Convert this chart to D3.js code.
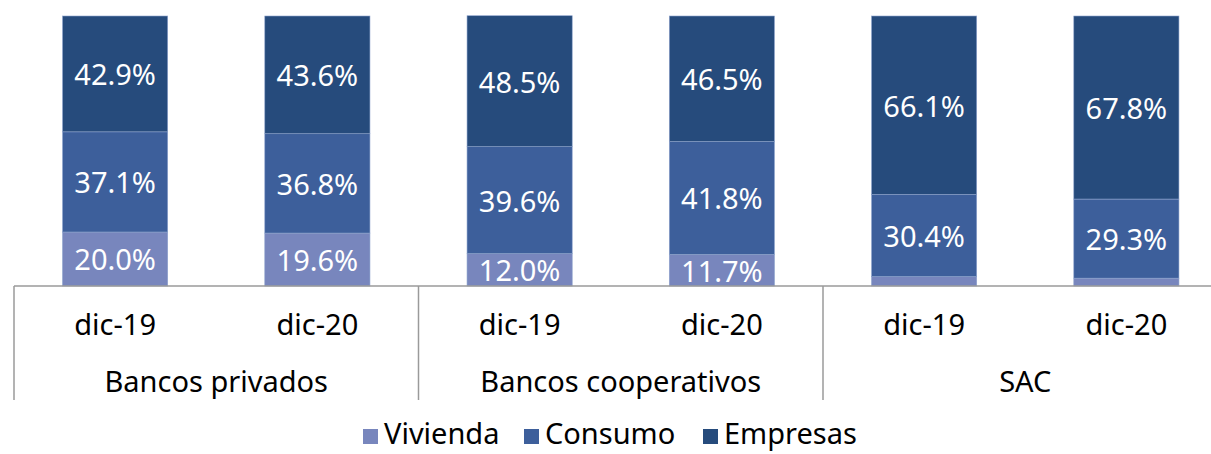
<!DOCTYPE html>
<html>
<head>
<meta charset="utf-8">
<script src="https://cdn.jsdelivr.net/npm/d3@7"></script>
<style>
  html, body { margin: 0; padding: 0; background: #fff; overflow: hidden; }
  svg { display: block; font-family: "Noto Sans", Lato, sans-serif; }
</style>
</head>
<body>
<div id="chart"></div>
<script>
var groups = ["Bancos privados", "Bancos cooperativos", "SAC"];
var periods = ["dic-19", "dic-20"];
var series = ["Vivienda", "Consumo", "Empresas"];
var colors = ["#7886bd", "#3d5f9b", "#264b7c"];

// shares in %, order: privados 19, privados 20, coop 19, coop 20, SAC 19, SAC 20
var vivienda = [20.0, 19.6, 12.0, 11.7, 3.5, 2.9];
var consumo  = [37.1, 36.8, 39.6, 41.8, 30.4, 29.3];
var empresas = [42.9, 43.6, 48.5, 46.5, 66.1, 67.8];

var width = 1211,
    height = 454;

var rows = [];
groups.forEach(function(g, gi) {
    periods.forEach(function(p, pi) {
        var i = gi * periods.length + pi;
        rows.push({ key: g + "|" + p, group: g, period: p,
            Vivienda: vivienda[i], Consumo: consumo[i], Empresas: empresas[i] });
    });
});

var svg = d3.select("#chart").append("svg")
    .attr("width", width)
    .attr("height", height);

// chart is cut at the right edge, third group goes past the window
var x0 = 14, groupW = 404.5;
var x = d3.scaleBand()
    .domain(rows.map(function(d) { return d.key; }))
    .range([x0, x0 + groupW * groups.length])
    .paddingInner(0.48)
    .paddingOuter(0.24);

var y = d3.scaleLinear()
    .domain([0, 100])
    .range([286, 16]);

var stack = d3.stack().keys(series);
var layers = stack(rows);

var layer = svg.selectAll("g.layer")
    .data(layers).enter()
    .append("g")
    .attr("class", "layer")
    .attr("fill", function(d, i) { return colors[i]; });

layer.selectAll("rect")
    .data(function(d) { return d; }).enter()
    .append("rect")
    .attr("x", function(d) { return x(d.data.key); })
    .attr("width", x.bandwidth())
    .attr("y", function(d) { return y(d[1]); })
    .attr("height", function(d) { return y(d[0]) - y(d[1]); })
    .attr("stroke", "#8ea3cc")
    .attr("stroke-width", 0.6);

// value labels
layer.selectAll("text")
    .data(function(d) { return d.filter(function(s) { return s[1] - s[0] >= 5; }); }).enter()
    .append("text")
    .attr("x", function(d) { return x(d.data.key) + x.bandwidth() / 2; })
    .attr("y", function(d) { return (y(d[0]) + y(d[1])) / 2 + 1; })
    .attr("dy", "0.36em")
    .attr("text-anchor", "middle")
    .attr("fill", "#fff")
    .attr("font-size", 29)
    .text(function(d) { return (d[1] - d[0]).toFixed(1) + "%"; });

// axis line and group separators
svg.append("line")
    .attr("x1", x0).attr("x2", width)
    .attr("y1", y(0)).attr("y2", y(0))
    .attr("stroke", "#9a9a9a").attr("stroke-width", 1.5);

svg.selectAll("line.sep")
    .data(d3.range(groups.length + 1)).enter()
    .append("line")
    .attr("class", "sep")
    .attr("x1", function(i) { return x0 + i * groupW; })
    .attr("x2", function(i) { return x0 + i * groupW; })
    .attr("y1", y(0)).attr("y2", 400)
    .attr("stroke", "#9a9a9a").attr("stroke-width", 1.5);

// category labels
svg.selectAll("text.period")
    .data(rows).enter()
    .append("text")
    .attr("class", "period")
    .attr("x", function(d) { return x(d.key) + x.bandwidth() / 2; })
    .attr("y", 325)
    .attr("dy", "0.36em")
    .attr("text-anchor", "middle")
    .attr("font-size", 29)
    .attr("fill", "#000")
    .text(function(d) { return d.period; });

svg.selectAll("text.group")
    .data(groups).enter()
    .append("text")
    .attr("class", "group")
    .attr("x", function(d, i) { return x0 + i * groupW + groupW / 2; })
    .attr("y", 382)
    .attr("dy", "0.36em")
    .attr("text-anchor", "middle")
    .attr("font-size", 29)
    .attr("fill", "#000")
    .text(function(d) { return d; });

// legend
var legendX = [363, 524, 703];
var legend = svg.selectAll("g.legend")
    .data(series).enter()
    .append("g")
    .attr("class", "legend")
    .attr("transform", function(d, i) { return "translate(" + legendX[i] + ",444)"; });

legend.append("rect")
    .attr("x", 0).attr("y", -15)
    .attr("width", 15).attr("height", 15)
    .attr("fill", function(d, i) { return colors[i]; });

legend.append("text")
    .attr("x", 21)
    .attr("font-size", 29)
    .attr("fill", "#000")
    .text(function(d) { return d; });
</script>
</body>
</html>
